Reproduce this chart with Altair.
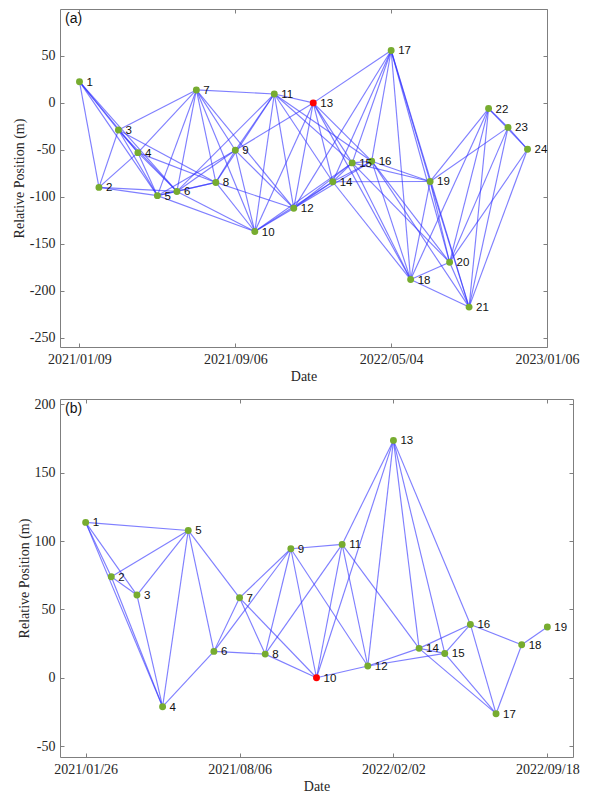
import altair as alt
import pandas as pd

# ---------------- Panel (a) ----------------
a_index = [0, 1, 2, 3, 4, 5, 6, 7, 8, 9, 10, 11, 12, 13, 14, 15, 16, 17, 18, 19, 20, 21, 22, 23]
a_pos = [22.6, -90.0, -28.9, -53.0, -98.8, -94.3, 13.8, -84.7, -50.5, -137.0, 9.5, -112.3,
         0.0, -84.0, -63.9, -62.1, 55.8, -188.2, -83.7, -169.8, -217.5, -6.0, -26.1, -49.4]
a_ref = 13
a_edges = [
    (1, 2), (1, 3), (1, 4), (1, 5), (1, 6),
    (2, 3), (2, 4), (2, 5), (2, 6),
    (3, 4), (3, 5), (3, 6), (3, 7), (3, 8),
    (4, 5), (4, 6), (4, 7), (4, 8),
    (5, 6), (5, 7), (5, 8), (5, 9), (5, 10),
    (6, 7), (6, 8), (6, 9), (6, 10), (6, 11),
    (7, 8), (7, 9), (7, 10), (7, 11), (7, 12),
    (8, 9), (8, 10), (8, 11), (8, 12),
    (9, 10), (9, 11), (9, 12), (9, 13),
    (10, 11), (10, 12), (10, 13), (10, 14), (10, 15),
    (11, 12), (11, 13), (11, 14), (11, 15), (11, 16),
    (12, 13), (12, 14), (12, 15), (12, 16), (12, 17),
    (13, 14), (13, 15), (13, 16), (13, 17), (13, 18),
    (14, 15), (14, 16), (14, 17), (14, 18), (14, 19),
    (15, 16), (15, 17), (15, 18), (15, 19), (15, 20),
    (16, 17), (16, 18), (16, 19), (16, 20), (16, 21),
    (17, 18), (17, 19), (17, 20), (17, 21),
    (18, 19), (18, 20), (18, 21), (18, 22),
    (19, 20), (19, 21), (19, 22), (19, 23),
    (20, 21), (20, 22), (20, 23), (20, 24),
    (21, 22), (21, 23), (21, 24),
    (22, 23), (22, 24),
    (23, 24),
]
a_xticks = [0, 8, 16, 24]
a_xlabels = ["2021/01/09", "2021/09/06", "2022/05/04", "2023/01/06"]
a_yticks = [50, 0, -50, -100, -150, -200, -250]

# ---------------- Panel (b) ----------------
b_index = [0, 1, 2, 3, 4, 5, 6, 7, 8, 9, 10, 11, 12, 13, 14, 15, 16, 17, 18]
b_pos = [113.7, 73.9, 60.5, -21.2, 107.8, 19.3, 58.5, 17.3, 94.4, 0.0, 97.6, 8.6,
         173.7, 21.5, 17.8, 39.0, -26.3, 24.1, 37.1]
b_ref = 10
b_edges = [
    (1, 2), (1, 3), (1, 4), (1, 5),
    (2, 3), (2, 4), (2, 5),
    (3, 4), (3, 5),
    (4, 5), (4, 6),
    (5, 6), (5, 7),
    (6, 7), (6, 8), (6, 9),
    (7, 8), (7, 9), (7, 10),
    (8, 9), (8, 10), (8, 11),
    (9, 10), (9, 11), (9, 12),
    (10, 11), (10, 12), (10, 13),
    (11, 12), (11, 13), (11, 14),
    (12, 13), (12, 14), (12, 15),
    (13, 14), (13, 15), (13, 16),
    (14, 15), (14, 16), (14, 17),
    (15, 16), (15, 17),
    (16, 17), (16, 18),
    (17, 18),
    (18, 19),
]
b_xticks = [0, 6, 12, 18]
b_xlabels = ["2021/01/26", "2021/08/06", "2022/02/02", "2022/09/18"]
b_yticks = [-50, 0, 50, 100, 150, 200]

EDGE_COLOR = "#3030ff"
NODE_GREEN = "#77ac30"
NODE_RED = "#ff0000"
FRAME = "#7f7f7f"
TXT = "#262626"
SERIF = "Liberation Serif"
SANS = "Liberation Sans"


def label_expr(ticks, labels):
    expr = "''"
    for t, l in reversed(list(zip(ticks, labels))):
        expr = f"datum.value == {t} ? '{l}' : ({expr})"
    return expr


def panel(index, pos, ref, edges, xticks, xlabels, yticks, xdom, ydom, w, h, tag):
    nodes = pd.DataFrame({
        "x": index,
        "y": pos,
        "label": [str(i + 1) for i in range(len(index))],
        "kind": ["ref" if i + 1 == ref else "normal" for i in range(len(index))],
    })
    edf = pd.DataFrame({
        "x": [index[a - 1] for a, b in edges],
        "y": [pos[a - 1] for a, b in edges],
        "x2": [index[b - 1] for a, b in edges],
        "y2": [pos[b - 1] for a, b in edges],
    })
    xs = alt.Scale(domain=xdom, nice=False, zero=False)
    ys = alt.Scale(domain=ydom, nice=False, zero=False)

    common_ax = dict(offset=-4, tickSize=4, domain=False, grid=False,
                     tickColor=FRAME, tickWidth=1)

    x_bottom = alt.Axis(orient="bottom", values=xticks, labelExpr=label_expr(xticks, xlabels),
                        title="Date", labelPadding=5, titlePadding=3, labelFlush=False,
                        labelOverlap=False, **common_ax)
    y_left = alt.Axis(orient="left", values=yticks, title="Relative Position (m)",
                      labelExpr="'' + datum.value",
                      labelPadding=5, titlePadding=3, labelOverlap=False, **common_ax)
    x_top = alt.Axis(orient="top", values=xticks, labels=False, title=None, **common_ax)
    y_right = alt.Axis(orient="right", values=yticks, labels=False, title=None, **common_ax)

    edge_layer = alt.Chart(edf).mark_rule(
        color=EDGE_COLOR, strokeWidth=1.15, opacity=0.62
    ).encode(
        x=alt.X("x:Q", scale=xs, axis=x_bottom),
        y=alt.Y("y:Q", scale=ys, axis=y_left),
        x2="x2:Q",
        y2="y2:Q",
    )
    frame_ticks = alt.Chart(nodes).mark_point(opacity=0).encode(
        x=alt.X("x:Q", scale=xs, axis=x_top),
        y=alt.Y("y:Q", scale=ys, axis=y_right),
    )
    node_layer = alt.Chart(nodes).mark_circle(size=48, opacity=1).encode(
        x=alt.X("x:Q", scale=xs, axis=None),
        y=alt.Y("y:Q", scale=ys, axis=None),
        color=alt.Color("kind:N", scale=alt.Scale(domain=["normal", "ref"],
                                                   range=[NODE_GREEN, NODE_RED]), legend=None),
    )
    text_layer = alt.Chart(nodes).mark_text(
        align="left", baseline="middle", dx=7, dy=1, font=SANS, fontSize=11.5, color="#111111"
    ).encode(
        x=alt.X("x:Q", scale=xs, axis=None),
        y=alt.Y("y:Q", scale=ys, axis=None),
        text="label:N",
    )
    tag_layer = alt.Chart(pd.DataFrame({"t": [tag]})).mark_text(
        align="left", baseline="top", font=SANS, fontSize=14, color="#111111"
    ).encode(
        x=alt.value(5),
        y=alt.value(3),
        text="t:N",
    )
    return alt.layer(edge_layer, frame_ticks, node_layer, text_layer, tag_layer).resolve_axis(
        x="independent", y="independent"
    ).properties(width=w, height=h)


pa = panel(a_index, a_pos, a_ref, a_edges, a_xticks, a_xlabels, a_yticks,
           [-1, 24], [-260, 100], 487, 338, "(a)")
pb = panel(b_index, b_pos, b_ref, b_edges, b_xticks, b_xlabels, b_yticks,
           [-1, 19], [-58, 204], 513, 358, "(b)")

chart = alt.vconcat(pa, pb, spacing=12).properties(
    padding={"left": 3, "top": 0, "right": 0, "bottom": 0}
).configure_view(
    stroke=FRAME, strokeWidth=1
).configure_axis(
    labelFont=SERIF, labelFontSize=14, labelColor=TXT,
    titleFont=SERIF, titleFontSize=14, titleFontWeight="normal", titleColor=TXT,
)

chart.save("out.html", embed_options={"renderer": "svg", "actions": False})
